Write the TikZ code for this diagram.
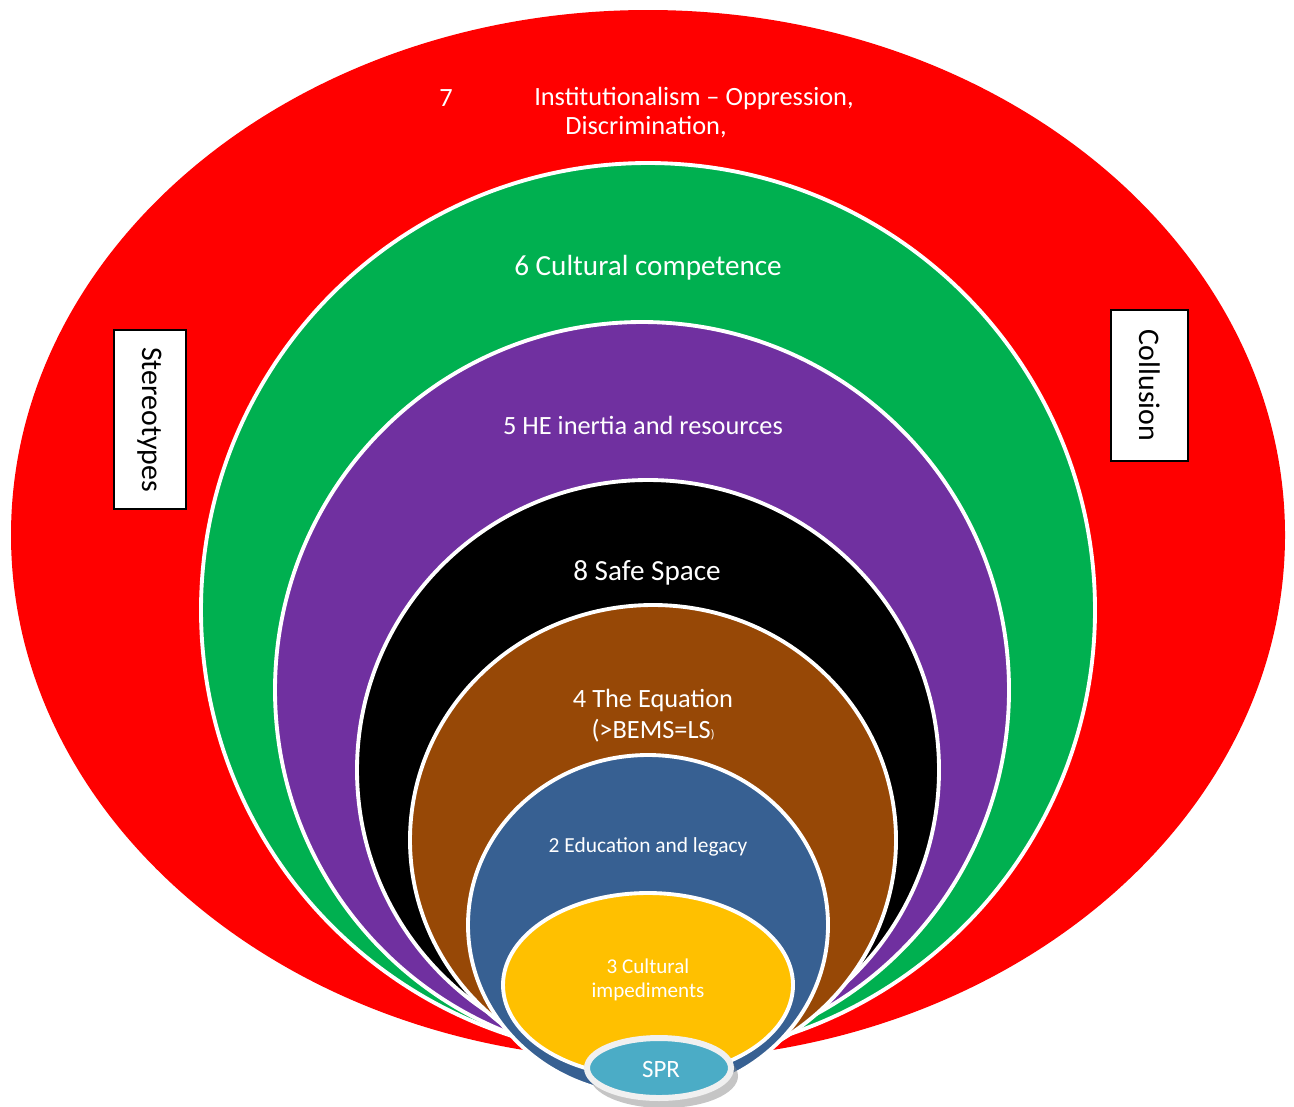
\documentclass[tikz,border=0pt]{standalone}
\usepackage{fontspec}
\setmainfont{Carlito}
\definecolor{ringred}{HTML}{FF0000}
\definecolor{ringgreen}{HTML}{00B050}
\definecolor{ringpurple}{HTML}{7030A0}
\definecolor{ringbrown}{HTML}{974806}
\definecolor{ringblue}{HTML}{376092}
\definecolor{ringyellow}{HTML}{FFC000}
\definecolor{sprblue}{HTML}{4BACC6}
\tikzset{
  ring/.style={draw=white, line width=2.2pt},
  lbl/.style={text=white, inner sep=1pt},
  sidebox/.style={draw=black, fill=white, line width=0.6pt, font=\fontsize{17}{20}\selectfont}
}
\begin{document}
\begin{tikzpicture}[x=0.02cm,y=-0.02cm]
\useasboundingbox (0,0) rectangle (1294,1106);

% Nested rings, outside in
\fill[ringred] (648,535) ellipse [x radius=637, y radius=525];
\fill[ringgreen, ring] (648,610) ellipse [x radius=447, y radius=447];
\fill[ringpurple, ring] (642,690) ellipse [x radius=367, y radius=368];
\fill[black, ring] (648,770) ellipse [x radius=291, y radius=290];
\fill[ringbrown, ring] (653,840) ellipse [x radius=243, y radius=235];
\fill[ringblue, ring] (648,925) ellipse [x radius=180, y radius=170];
\fill[ringyellow, ring] (648,985) ellipse [x radius=145, y radius=92];

% SPR core with shadow
\fill[black!45, opacity=0.5] (664,1076) ellipse [x radius=74, y radius=32];
\fill[sprblue, draw=black!6, line width=3.4pt] (659,1068) ellipse [x radius=72, y radius=30];

% Ring labels
\node[lbl, font=\fontsize{15}{18}\selectfont] (num7) at (446,98) {7};
\node[lbl, font=\fontsize{15}{18}\selectfont] (inst) at (694,98) {Institutionalism – Oppression,};
\node[lbl, font=\fontsize{15}{18}\selectfont] (discr) at (646,127) {Discrimination,};
\node[lbl, font=\fontsize{16.6}{20}\selectfont] (cult) at (648,268) {6 Cultural competence};
\node[lbl, font=\fontsize{15}{18}\selectfont] (inertia) at (643,425) {5 HE inertia and resources};
\node[lbl, font=\fontsize{16.6}{20}\selectfont] (safe) at (647,573) {8 Safe Space};
\node[lbl, font=\fontsize{15}{18}\selectfont] (equ) at (653,700) {4 The Equation};
\node[lbl, font=\fontsize{15}{18}\selectfont] (bems) at (653,731) {(>BEMS=LS{\fontsize{7}{8}\selectfont)}};
\node[lbl, font=\fontsize{12.2}{15}\selectfont] (educ) at (648,847) {2 Education and legacy};
\node[lbl, font=\fontsize{12}{15}\selectfont, align=center] (imped) at (648,980) {3 Cultural\\[-1pt]impediments};
\node[lbl, font=\fontsize{14.2}{17}\selectfont] (spr) at (661,1069) {SPR};

% Side boxes
\node[sidebox, rotate=-90, minimum width=3.58cm, minimum height=1.44cm] (stereo) at (150,419.5) {Stereotypes};
\node[sidebox, rotate=-90, minimum width=3.02cm, minimum height=1.54cm] (collu) at (1149.5,385.5) {Collusion};

\end{tikzpicture}
\end{document}
